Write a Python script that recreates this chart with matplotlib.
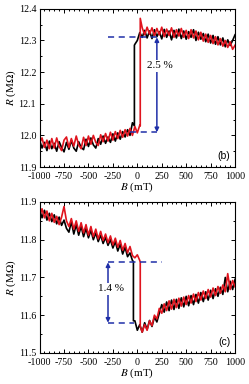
import numpy as np
import matplotlib
matplotlib.use("Agg")
from matplotlib import pyplot as plt
from matplotlib.ticker import MultipleLocator

# Campo magnético (mT), passo de 25 mT
B = np.arange(-1000, 1001, 25)

# Painel (b) - curva preta, salto em -30 mT
b_preto = [
    11.985, 11.960, 11.978, 11.952, 11.982, 11.958, 11.975, 11.950, 11.980, 11.962,
    11.948, 11.978, 11.956, 11.984, 11.960, 11.950, 11.980, 11.962, 11.955, 11.988,
    11.965, 11.992, 11.970, 11.960, 11.990, 11.972, 11.998, 11.975, 11.995, 11.978,
    12.005, 11.982, 12.008, 11.988, 12.012, 11.995, 12.018, 12.000, 12.040,
    12.288, 12.300, 12.325, 12.310, 12.332, 12.308, 12.330, 12.306, 12.334, 12.312,
    12.328, 12.305, 12.335, 12.310, 12.330, 12.302, 12.332, 12.308, 12.336, 12.306,
    12.330, 12.304, 12.328, 12.310, 12.334, 12.300, 12.326, 12.304, 12.322, 12.296,
    12.320, 12.292, 12.316, 12.288, 12.312, 12.286, 12.308, 12.280, 12.302, 12.284,
    12.300, 12.318,
]
b_preto_salto = (-30, 12.030, 12.285)

# Painel (b) - curva vermelha, salto em +30 mT
b_vermelho = [
    11.975, 11.992, 11.962, 11.985, 11.958, 11.990, 11.960, 11.992, 11.965, 11.952,
    11.985, 11.995, 11.962, 11.990, 11.966, 11.998, 11.970, 11.958, 11.994, 11.968,
    11.998, 11.972, 12.000, 11.978, 11.968, 12.002, 11.980, 12.006, 11.982, 12.010,
    11.985, 12.012, 11.990, 12.016, 11.994, 12.018, 11.998, 12.022, 12.000, 12.028,
    12.008, 12.032,
    12.340, 12.318, 12.342, 12.320, 12.340, 12.315, 12.338, 12.318, 12.342, 12.312,
    12.336, 12.316, 12.340, 12.310, 12.334, 12.314, 12.338, 12.310, 12.332, 12.306,
    12.334, 12.308, 12.330, 12.302, 12.326, 12.298, 12.320, 12.294, 12.316, 12.290,
    12.312, 12.286, 12.306, 12.282, 12.300, 12.278, 12.296, 12.272, 12.285,
]
b_vermelho_salto = (30, 12.030, 12.370)

# Painel (c) - curva preta, salto em -40 mT
c_preto = [
    11.880, 11.858, 11.878, 11.852, 11.870, 11.848, 11.866, 11.842, 11.860, 11.838,
    11.852, 11.830, 11.820, 11.848, 11.815, 11.840, 11.812, 11.836, 11.808, 11.830,
    11.805, 11.825, 11.800, 11.818, 11.795, 11.812, 11.790, 11.806, 11.785, 11.800,
    11.778, 11.795, 11.770, 11.788, 11.762, 11.780, 11.755, 11.765, 11.745,
    11.585, 11.560, 11.575, 11.555, 11.580, 11.562, 11.586, 11.570, 11.595, 11.582,
    11.605, 11.628, 11.608, 11.635, 11.612, 11.640, 11.615, 11.642, 11.618, 11.646,
    11.622, 11.650, 11.625, 11.652, 11.628, 11.655, 11.632, 11.660, 11.636, 11.662,
    11.640, 11.666, 11.644, 11.670, 11.650, 11.674, 11.655, 11.700, 11.662, 11.690,
    11.668, 11.695,
]
c_preto_salto = (-40, 11.742, 11.585)

# Painel (c) - curva vermelha, salto em +30 mT
c_vermelho = [
    11.862, 11.882, 11.858, 11.876, 11.850, 11.870, 11.846, 11.862, 11.840, 11.860,
    11.888, 11.850, 11.835, 11.856, 11.828, 11.850, 11.822, 11.845, 11.818, 11.840,
    11.812, 11.835, 11.808, 11.828, 11.802, 11.822, 11.798, 11.815, 11.792, 11.810,
    11.786, 11.804, 11.780, 11.798, 11.772, 11.790, 11.765, 11.782, 11.758, 11.752,
    11.760, 11.745,
    11.555, 11.575, 11.560, 11.585, 11.572, 11.600, 11.590, 11.618, 11.605, 11.630,
    11.612, 11.638, 11.616, 11.642, 11.620, 11.645, 11.624, 11.648, 11.628, 11.652,
    11.632, 11.656, 11.636, 11.660, 11.640, 11.664, 11.644, 11.668, 11.648, 11.672,
    11.652, 11.676, 11.658, 11.680, 11.662, 11.710, 11.668, 11.692, 11.675,
]
c_vermelho_salto = (30, 11.740, 11.570)

# Marcações da variação percentual
b_nivel_alto, b_nivel_baixo, b_seta_x, b_texto = 12.31, 12.01, 200, "2.5 %"
c_nivel_alto, c_nivel_baixo, c_seta_x, c_texto = 11.74, 11.58, -300, "1.4 %"

plt.rcParams['font.family'] = ['Liberation Serif', 'DejaVu Serif']
plt.rcParams['mathtext.fontset'] = 'stix'
plt.rcParams['axes.unicode_minus'] = False
AZUL = '#1f2fa8'
VERMELHO = '#e0141e'


def monta_curva(valores, salto):
    b0, r_antes, r_depois = salto
    v = np.array(valores)
    x = np.concatenate([B[B < b0], [b0, b0], B[B > b0]])
    y = np.concatenate([v[B < b0], [r_antes, r_depois], v[B > b0]])
    return x, y


def formata_eixo(ax, ylim, painel):
    ax.set_xlim(-1000, 1000)
    ax.set_ylim(*ylim)
    ax.xaxis.set_major_locator(MultipleLocator(250))
    ax.xaxis.set_minor_locator(MultipleLocator(50))
    ax.yaxis.set_major_locator(MultipleLocator(0.1))
    ax.yaxis.set_minor_locator(MultipleLocator(0.05))
    ax.tick_params(which='both', direction='in', top=True, right=True, labelsize=7.2,
                   width=0.7)
    ax.tick_params(axis='x', pad=3.5)
    ax.tick_params(axis='y', pad=2.5)
    ax.tick_params(which='major', length=3)
    ax.tick_params(which='minor', length=1.5)
    for s in ax.spines.values():
        s.set_linewidth(0.8)
    ax.set_xlabel(r'$B$ (mT)', fontsize=8, labelpad=0)
    ax.set_ylabel(r'$R$ (M$\Omega$)', fontsize=8, labelpad=0.5)
    ax.text(0.975, 0.04, painel, transform=ax.transAxes, ha='right', va='bottom',
            fontsize=7.5, family='Liberation Sans')


fig = plt.figure(figsize=(2.49, 3.84), dpi=100)
ax1 = fig.add_axes([0.159, 0.565, 0.785, 0.412])
ax2 = fig.add_axes([0.159, 0.081, 0.785, 0.393])

# Painel (b)
x, y = monta_curva(b_preto, b_preto_salto)
ax1.plot(x, y, color='black', lw=1.2)
x, y = monta_curva(b_vermelho, b_vermelho_salto)
ax1.plot(x, y, color=VERMELHO, lw=1.2)
ax1.plot([-300, b_seta_x], [b_nivel_alto] * 2, ls=(0, (4, 3)), color=AZUL, lw=1.1)
ax1.plot([-70, b_seta_x], [b_nivel_baixo] * 2, ls=(0, (4, 3)), color=AZUL, lw=1.1)
ax1.annotate('', xy=(b_seta_x, b_nivel_alto), xytext=(b_seta_x, b_nivel_baixo),
             arrowprops=dict(arrowstyle='<|-|>', color=AZUL, lw=1.1, mutation_scale=6,
                             shrinkA=0, shrinkB=0))
ax1.text(b_seta_x + 30, 12.22, b_texto, ha='center', va='center', fontsize=8,
         bbox=dict(facecolor='white', edgecolor='none', pad=1))
formata_eixo(ax1, (11.9, 12.4), '(b)')

# Painel (c)
x, y = monta_curva(c_preto, c_preto_salto)
ax2.plot(x, y, color='black', lw=1.2)
x, y = monta_curva(c_vermelho, c_vermelho_salto)
ax2.plot(x, y, color=VERMELHO, lw=1.2)
ax2.plot([c_seta_x, 250], [c_nivel_alto] * 2, ls=(0, (4, 3)), color=AZUL, lw=1.1)
ax2.plot([c_seta_x, -30], [c_nivel_baixo] * 2, ls=(0, (4, 3)), color=AZUL, lw=1.1)
ax2.annotate('', xy=(c_seta_x, c_nivel_alto), xytext=(c_seta_x, c_nivel_baixo),
             arrowprops=dict(arrowstyle='<|-|>', color=AZUL, lw=1.1, mutation_scale=6,
                             shrinkA=0, shrinkB=0))
ax2.text(c_seta_x + 30, 11.67, c_texto, ha='center', va='center', fontsize=8,
         bbox=dict(facecolor='white', edgecolor='none', pad=1))
formata_eixo(ax2, (11.5, 11.9), '(c)')

plt.savefig("out.png", dpi=100)
